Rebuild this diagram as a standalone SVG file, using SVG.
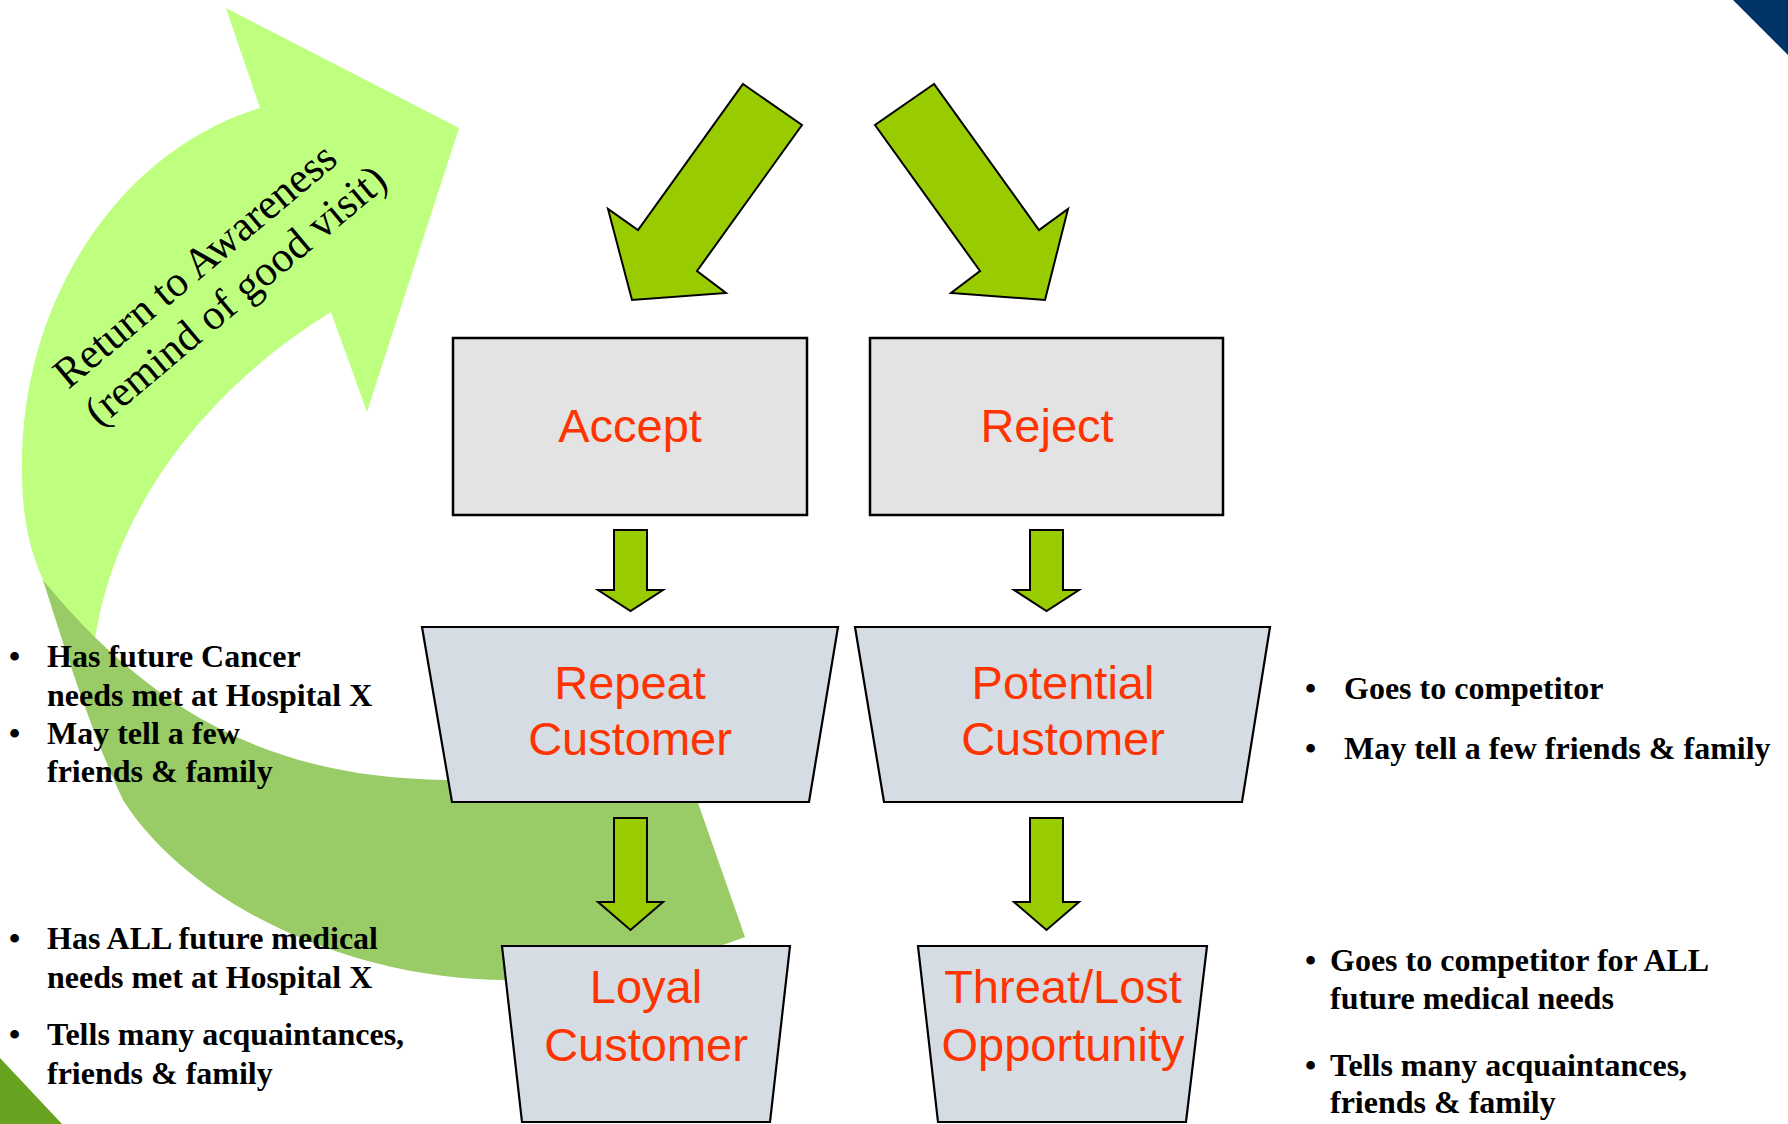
<svg xmlns="http://www.w3.org/2000/svg" width="1788" height="1124" viewBox="0 0 1788 1124">
<style>
.box{fill:#E3E3E3;stroke:#000;stroke-width:2.5}
.trap{fill:#D6DCE4;stroke:#000;stroke-width:2.2}
.arr{fill:#99CC00;stroke:#000;stroke-width:2;stroke-linejoin:miter}
.lbl{font-family:"Liberation Sans",Arial,sans-serif;font-size:47px;fill:#FF3300;text-anchor:middle}
.note{font-family:"Liberation Serif","Times New Roman",serif;font-size:32px;font-weight:bold;fill:#000}
.rot{font-family:"Liberation Serif","Times New Roman",serif;font-size:43px;fill:#000;text-anchor:middle}
</style>
<rect width="1788" height="1124" fill="#FFFFFF"/>
<polygon points="1733,0 1788,0 1788,55" fill="#003366"/>
<polygon points="0,1058 0,1124 62,1124" fill="#68A31F"/>

<g id="return-arrow">
<path d="M43,580 C30,550 22,520 22,470 C20,300 120,150 260,108 L226,8 L459,128 L367,412 L331,312 C220,380 110,500 93,655 L110,705 L70,640 Z" fill="#BFFF80"/>
<path d="M43,580 C62,640 90,730 123,800 C190,905 350,980 507,980 C600,980 680,962 745,937 L690,780 L447,780 C300,778 170,735 43,580 Z" fill="#99CC66"/>
<g transform="translate(218,293) rotate(-40)">
<text class="rot" x="0" y="-22">Return to Awareness</text>
<text class="rot" x="12" y="27">(remind of good visit)</text>
</g>
</g>

<g id="connectors">
<polygon class="arr" points="743,84 802,125 697,271 726,293 632,300 608,209 638,230"/>
<polygon class="arr" points="934,84 875,125 980,271 951,293 1045,300 1068,209 1039,230"/>
<polygon class="arr" points="614,530 647,530 647,590 663,590 630.5,611 598,590 614,590"/>
<polygon class="arr" points="1030,530 1063,530 1063,590 1079,590 1046.5,611 1014,590 1030,590"/>
<polygon class="arr" points="614,818 647,818 647,902 663,902 630.5,930 598,902 614,902"/>
<polygon class="arr" points="1030,818 1063,818 1063,902 1079,902 1046.5,930 1014,902 1030,902"/>
</g>

<g id="accept">
<rect class="box" x="453" y="338" width="354" height="177"/>
<text class="lbl" x="630" y="442">Accept</text>
</g>
<g id="reject">
<rect class="box" x="870" y="338" width="353" height="177"/>
<text class="lbl" x="1047" y="442">Reject</text>
</g>
<g id="repeat-customer">
<polygon class="trap" points="422,627 838,627 809,802 452,802"/>
<text class="lbl" x="630" y="699">Repeat</text>
<text class="lbl" x="630" y="755">Customer</text>
</g>
<g id="potential-customer">
<polygon class="trap" points="855,627 1270,627 1242,802 884,802"/>
<text class="lbl" x="1063" y="699">Potential</text>
<text class="lbl" x="1063" y="755">Customer</text>
</g>
<g id="loyal-customer">
<polygon class="trap" points="502,946 790,946 770,1122 522,1122"/>
<text class="lbl" x="646" y="1003">Loyal</text>
<text class="lbl" x="646" y="1061">Customer</text>
</g>
<g id="threat-lost">
<polygon class="trap" points="918,946 1207,946 1186,1122 938,1122"/>
<text class="lbl" x="1063" y="1003">Threat/Lost</text>
<text class="lbl" x="1063" y="1061">Opportunity</text>
</g>

<g id="notes-repeat">
<text class="note" x="9" y="667">•</text>
<text class="note" x="47" y="667">Has future Cancer</text>
<text class="note" x="47" y="706">needs met at Hospital X</text>
<text class="note" x="9" y="744">•</text>
<text class="note" x="47" y="744">May tell a few</text>
<text class="note" x="47" y="782">friends &amp; family</text>
</g>
<g id="notes-loyal">
<text class="note" x="9" y="949">•</text>
<text class="note" x="47" y="949">Has ALL future medical</text>
<text class="note" x="47" y="988">needs met at Hospital X</text>
<text class="note" x="9" y="1045">•</text>
<text class="note" x="47" y="1045">Tells many acquaintances,</text>
<text class="note" x="47" y="1084">friends &amp; family</text>
</g>
<g id="notes-potential">
<text class="note" x="1305" y="699">•</text>
<text class="note" x="1344" y="699">Goes to competitor</text>
<text class="note" x="1305" y="759">•</text>
<text class="note" x="1344" y="759">May tell a few friends &amp; family</text>
</g>
<g id="notes-threat">
<text class="note" x="1305" y="971">•</text>
<text class="note" x="1330" y="971">Goes to competitor for ALL</text>
<text class="note" x="1330" y="1009">future medical needs</text>
<text class="note" x="1305" y="1076">•</text>
<text class="note" x="1330" y="1076">Tells many acquaintances,</text>
<text class="note" x="1330" y="1113">friends &amp; family</text>
</g>
</svg>
